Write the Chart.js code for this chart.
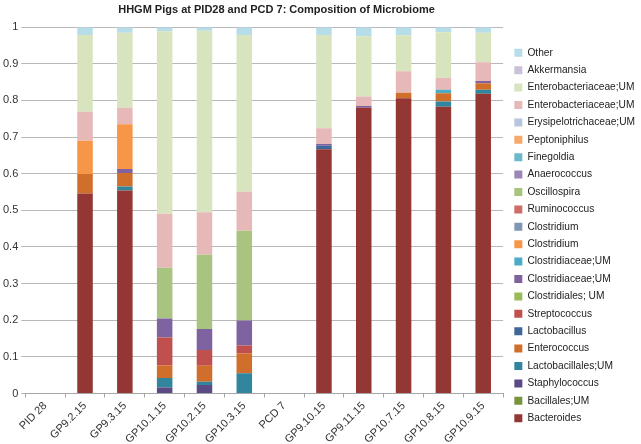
<!DOCTYPE html>
<html>
<head>
<meta charset="utf-8">
<script src="https://cdn.jsdelivr.net/npm/chart.js@4.4.1/dist/chart.umd.min.js"></script>
<style>
  html, body { margin: 0; padding: 0; background: #fff; }
</style>
</head>
<body>
<canvas id="microbiomeChart" width="641" height="444"></canvas>
<script>
// samples on the x axis
const samples = ["PID 28", "GP9.2.15", "GP9.3.15", "GP10.1.15", "GP10.2.15", "GP10.3.15",
  "PCD 7", "GP9.10.15", "GP9.11.15", "GP10.7.15", "GP10.8.15", "GP10.9.15"];

// relative abundance per taxon, bottom of the stack first
const bacteroides       = [0, 0.546, 0.554, 0, 0, 0, 0, 0.667, 0.780, 0.806, 0.783, 0.818];
const bacillalesUM      = [0, 0, 0, 0, 0, 0, 0, 0, 0, 0, 0, 0];
const staphylococcus    = [0, 0, 0, 0.016, 0.023, 0, 0, 0, 0, 0, 0, 0];
const lactobacillalesUM = [0, 0, 0.011, 0.026, 0.009, 0.055, 0, 0, 0, 0, 0.014, 0.011];
const enterococcus      = [0, 0.053, 0.037, 0.035, 0.044, 0.055, 0, 0, 0, 0.015, 0.023, 0.018];
const lactobacillus     = [0, 0, 0, 0, 0, 0, 0, 0.009, 0, 0, 0, 0];
const streptococcus     = [0, 0, 0, 0.076, 0.043, 0.021, 0, 0, 0, 0, 0, 0];
const clostridialesUM   = [0, 0, 0, 0, 0, 0, 0, 0, 0, 0, 0, 0];
const clostridiaceaeUM1 = [0, 0, 0.011, 0.052, 0.057, 0.068, 0, 0.005, 0.005, 0, 0, 0.006];
const clostridiaceaeUM2 = [0, 0, 0, 0, 0, 0, 0, 0, 0, 0, 0.009, 0];
const clostridium1      = [0, 0.091, 0.122, 0, 0, 0, 0, 0, 0, 0, 0, 0];
const clostridium2      = [0, 0, 0, 0, 0, 0, 0, 0, 0, 0, 0, 0];
const ruminococcus      = [0, 0, 0, 0, 0, 0, 0, 0, 0, 0, 0, 0];
const oscillospira      = [0, 0, 0, 0.138, 0.203, 0.245, 0, 0, 0, 0, 0, 0];
const anaerococcus      = [0, 0, 0, 0, 0, 0, 0, 0, 0, 0, 0, 0];
const finegoldia        = [0, 0, 0, 0, 0, 0, 0, 0, 0, 0, 0, 0];
const peptoniphilus     = [0, 0, 0, 0, 0, 0, 0, 0, 0, 0, 0, 0];
const erysipeloUM       = [0, 0, 0, 0, 0, 0, 0, 0, 0, 0, 0, 0];
const enteroPinkUM      = [0, 0.079, 0.045, 0.148, 0.116, 0.107, 0, 0.043, 0.026, 0.059, 0.032, 0.051];
const enteroGreenUM     = [0, 0.210, 0.205, 0.498, 0.495, 0.428, 0, 0.255, 0.164, 0.098, 0.125, 0.081];
const akkermansia       = [0, 0, 0, 0, 0, 0, 0, 0, 0, 0, 0, 0];
const other             = [0, 0.021, 0.015, 0.011, 0.010, 0.021, 0, 0.021, 0.025, 0.022, 0.014, 0.015];

const series = [
  ["Bacteroides", bacteroides, "#943634"],
  ["Bacillales;UM", bacillalesUM, "#77933c"],
  ["Staphylococcus", staphylococcus, "#5b4a84"],
  ["Lactobacillales;UM", lactobacillalesUM, "#31859c"],
  ["Enterococcus", enterococcus, "#d06f2c"],
  ["Lactobacillus", lactobacillus, "#3f6797"],
  ["Streptococcus", streptococcus, "#c0504d"],
  ["Clostridiales; UM", clostridialesUM, "#9bbb59"],
  ["Clostridiaceae;UM", clostridiaceaeUM1, "#7f63a1"],
  ["Clostridiaceae;UM", clostridiaceaeUM2, "#4bacc6"],
  ["Clostridium", clostridium1, "#f79646"],
  ["Clostridium", clostridium2, "#7f97b2"],
  ["Ruminococcus", ruminococcus, "#cd6d69"],
  ["Oscillospira", oscillospira, "#a9c47e"],
  ["Anaerococcus", anaerococcus, "#9b86b7"],
  ["Finegoldia", finegoldia, "#6cb7c9"],
  ["Peptoniphilus", peptoniphilus, "#f8a868"],
  ["Erysipelotrichaceae;UM", erysipeloUM, "#b7c6dc"],
  ["Enterobacteriaceae;UM", enteroPinkUM, "#e6b9b8"],
  ["Enterobacteriaceae;UM", enteroGreenUM, "#d7e4bd"],
  ["Akkermansia", akkermansia, "#ccc1da"],
  ["Other", other, "#b7dee8"],
];

const yTicks = [0, 0.1, 0.2, 0.3, 0.4, 0.5, 0.6, 0.7, 0.8, 0.9, 1];

Chart.defaults.font.family = "'Liberation Sans', Arial, sans-serif";
Chart.defaults.color = "#333";

// nudge title and legend to where the original sheet had them
const nudge = {
  id: "nudge",
  afterLayout(chart) {
    const t = chart.titleBlock;
    if (t) { t.left -= 44; t.right -= 44; }
    const l = chart.legend;
    if (l) { l.left += 4; l.right += 4; l.top += 11.5; l.bottom += 11.5; }
  },
};

new Chart(document.getElementById("microbiomeChart"), {
  type: "bar",
  data: {
    labels: samples,
    datasets: series.map(([label, data, color]) => ({
      label: label,
      data: data,
      backgroundColor: color,
      borderWidth: 0,
      barPercentage: 0.39,
      categoryPercentage: 1,
    })),
  },
  options: {
    responsive: false,
    animation: false,
    layout: { padding: { bottom: -4 } },
    plugins: {
      title: {
        display: true,
        text: "HHGM Pigs at PID28 and PCD 7: Composition of Microbiome",
        font: { size: 11, weight: "bold" },
        color: "#222",
        padding: { top: 3, bottom: 11 },
      },
      legend: {
        position: "right",
        reverse: true,
        maxWidth: 138,
        labels: {
          boxWidth: 8,
          boxHeight: 8,
          padding: 7.2,
          color: "#222",
          font: { size: 10.2 },
        },
      },
      tooltip: { enabled: false },
    },
    scales: {
      x: {
        stacked: true,
        grid: { display: true, drawOnChartArea: false, drawTicks: true, tickLength: 4, color: "#a6a6a6", offset: true },
        border: { display: true, color: "#a6a6a6" },
        ticks: { minRotation: 45, maxRotation: 45, autoSkip: false, font: { size: 11 }, color: "#333", padding: 2 },
      },
      y: {
        stacked: true,
        min: 0,
        max: 1,
        afterBuildTicks(axis) {
          axis.ticks = yTicks.map((v) => ({ value: v }));
        },
        grid: { color: "#b8b8b8", tickLength: 4 },
        border: { display: false },
        ticks: {
          font: { size: 11 },
          color: "#333",
          padding: 3,
          callback: (v) => String(Math.round(v * 10) / 10),
        },
      },
    },
  },
  plugins: [nudge],
});
</script>
</body>
</html>
